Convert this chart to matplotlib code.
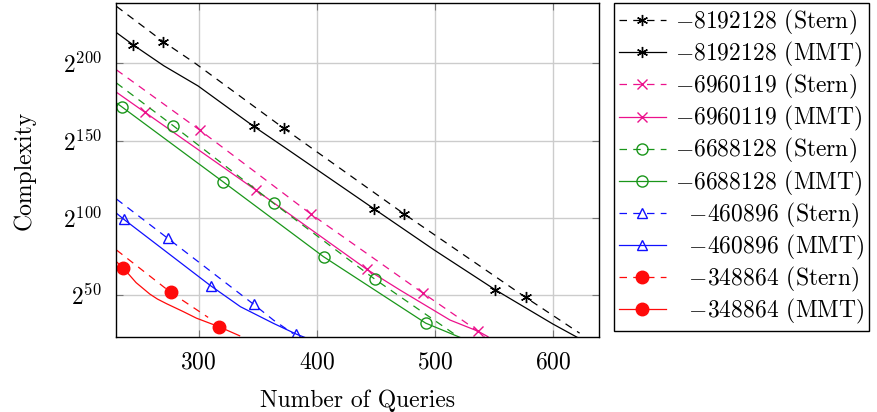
import matplotlib
matplotlib.use("Agg")
import matplotlib.pyplot as plt

plt.rcParams['font.family'] = 'cmr10'
plt.rcParams['mathtext.fontset'] = 'cm'
plt.rcParams['axes.formatter.use_mathtext'] = True
plt.rcParams['font.size'] = 17

# -- log2(complexity) against number of queries -- #
stern_8192128_x = [230.4, 270.0, 297.0, 371.9, 474.1, 576.8, 622.6]
stern_8192128_y = [236.8, 214.0, 200.0, 158.0, 102.4, 48.5, 25.3]
stern_8192128_marks = [1, 3, 4, 5]

mmt_8192128_x = [230.4, 244.5, 270.4, 299.5, 346.5, 371.9, 448.8, 499.5, 551.1, 600.0, 622.0]
mmt_8192128_y = [219.8, 211.9, 198.4, 185.3, 159.2, 146.0, 105.6, 79.1, 53.4, 31.2, 22.0]
mmt_8192128_marks = [1, 4, 6, 8]

stern_6960119_x = [230.4, 300.8, 395.0, 490.2, 527.0, 542.0]
stern_6960119_y = [195.7, 156.8, 102.4, 51.1, 31.7, 23.0]
stern_6960119_marks = [1, 2, 3]

mmt_6960119_x = [230.4, 254.4, 348.2, 442.4, 470.5, 512.8, 536.7, 545.0]
mmt_6960119_y = [181.2, 168.3, 118.0, 66.6, 53.2, 33.8, 26.5, 23.0]
mmt_6960119_marks = [1, 2, 3, 6]

stern_6688128_x = [230.4, 278.4, 363.4, 449.4, 516.0]
stern_6688128_y = [187.2, 159.6, 109.4, 60.1, 25.0]
stern_6688128_marks = [1, 2, 3]

mmt_6688128_x = [230.4, 234.7, 320.6, 405.7, 492.2, 521.2]
mmt_6688128_y = [174.3, 171.9, 123.3, 74.8, 31.8, 22.6]
mmt_6688128_marks = [1, 2, 3, 4]

stern_460896_x = [230.4, 273.8, 346.5, 363.4, 380.0]
stern_460896_y = [112.1, 86.7, 44.0, 33.7, 25.0]
stern_460896_marks = [1, 2]

mmt_460896_x = [230.4, 236.6, 310.1, 335.4, 363.4, 382.6, 390.0]
mmt_460896_y = [102.9, 99.0, 56.0, 42.4, 31.6, 24.7, 22.5]
mmt_460896_marks = [1, 2, 5]

stern_348864_x = [230.4, 276.3, 308.0]
stern_348864_y = [79.1, 51.7, 35.5]
stern_348864_marks = [1]

mmt_348864_x = [230.4, 236.1, 247.0, 258.6, 265.0, 272.7, 286.8, 298.1, 317.1, 334.7]
mmt_348864_y = [71.5, 67.5, 58.0, 50.6, 47.4, 44.4, 39.3, 35.0, 29.5, 23.6]
mmt_348864_marks = [1, 8]

y_ticks = [50, 100, 150, 200]
x_ticks = [300, 400, 500, 600]

magenta = '#ec118c'
green = '#1a961a'
blue = '#1010ff'
red = '#ff0a0a'
asterisk = (6, 2, 0)

fig = plt.figure(figsize=(8.77, 4.12), dpi=100)
ax = fig.add_axes([0.1323, 0.182, 0.5507, 0.8107])

series = [
	(stern_8192128_x, stern_8192128_y, stern_8192128_marks, 'black', asterisk, True, '{-}8192128', 'Stern'),
	(mmt_8192128_x, mmt_8192128_y, mmt_8192128_marks, 'black', asterisk, True, '{-}8192128', 'MMT'),
	(stern_6960119_x, stern_6960119_y, stern_6960119_marks, magenta, 'x', True, '{-}6960119', 'Stern'),
	(mmt_6960119_x, mmt_6960119_y, mmt_6960119_marks, magenta, 'x', True, '{-}6960119', 'MMT'),
	(stern_6688128_x, stern_6688128_y, stern_6688128_marks, green, 'o', False, '{-}6688128', 'Stern'),
	(mmt_6688128_x, mmt_6688128_y, mmt_6688128_marks, green, 'o', False, '{-}6688128', 'MMT'),
	(stern_460896_x, stern_460896_y, stern_460896_marks, blue, '^', False, '\\ \\ {-}460896', 'Stern'),
	(mmt_460896_x, mmt_460896_y, mmt_460896_marks, blue, '^', False, '\\ \\ {-}460896', 'MMT'),
	(stern_348864_x, stern_348864_y, stern_348864_marks, red, 'o', True, '\\ \\ {-}348864', 'Stern'),
	(mmt_348864_x, mmt_348864_y, mmt_348864_marks, red, 'o', True, '\\ \\ {-}348864', 'MMT'),
]

sizes = {'x': 7, 'o': 8, '^': 7}

for xs, ys, marks, col, mk, filled, num, algo in series:
	ls = (0, (6, 5)) if algo == 'Stern' else '-'
	ms = sizes.get(mk, 8) if isinstance(mk, str) else 8
	if mk == 'o' and filled:
		ms = 9
	ax.plot(xs, ys, linestyle=ls, color=col, linewidth=0.9,
			marker=mk, markevery=marks, markersize=ms,
			markerfacecolor=col if filled else 'none', markeredgecolor=col,
			markeredgewidth=1.0,
			label=r'$\mathtt{%s}$ (%s)' % (num, algo))

ax.set_xlim(230, 639)
ax.set_ylim(22.8, 239)
ax.set_xticks(x_ticks)
ax.set_yticks(y_ticks)
ax.set_yticklabels([r'$2^{%d}$' % t for t in y_ticks])
ax.grid(True, color='#cccccc', linewidth=1.0)
ax.set_axisbelow(True)
ax.tick_params(direction='in', top=True, right=True, length=5, color='#777777', pad=10)
for s in ax.spines.values():
	s.set_linewidth(1.0)

ax.set_xlabel('Number of Queries', labelpad=12)
ax.set_ylabel('Complexity', labelpad=20)

leg = fig.legend(loc='upper left', bbox_to_anchor=(0.700, 0.9927, 0.2987, 0.0),
				 frameon=True, fancybox=False, edgecolor='black', framealpha=1,
				 handlelength=2.0, handletextpad=0.4, labelspacing=0.13,
				 borderpad=0.2, borderaxespad=0, fontsize=17)
leg.get_frame().set_linewidth(1.0)

fig.savefig('out.png', dpi=100)
